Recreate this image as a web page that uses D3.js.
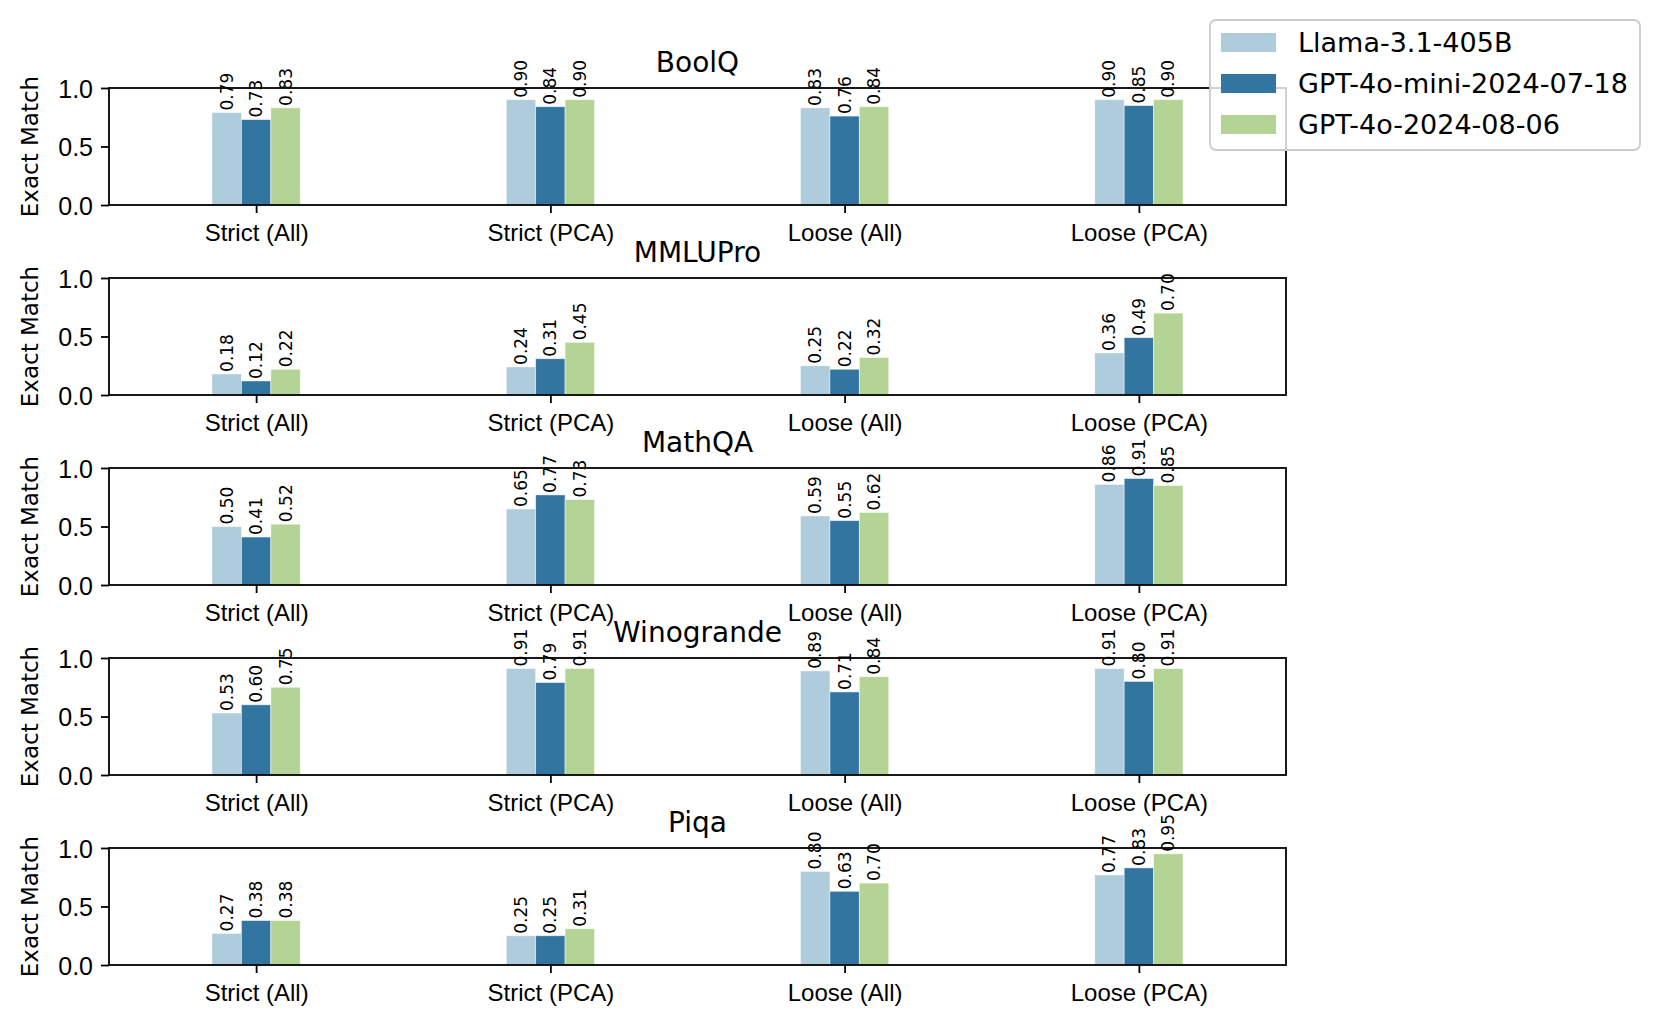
<!DOCTYPE html>
<html>
<head>
<meta charset="utf-8">
<script src="https://cdn.jsdelivr.net/npm/d3@7"></script>
<style>
    body { margin: 0; background: #fff; }
    svg { display: block; font-family: 'DejaVu Sans', sans-serif; }
    .tick text { font-size: 24px; fill: #000; }
    .y-axis .tick text { font-size: 25px; }
    .tick line, .domain { stroke: #000; stroke-width: 1.8; }
    .bar-label { font-size: 17px; fill: #000; }
    .panel-title { font-size: 28px; fill: #000; }
    .axis-label { font-size: 23px; fill: #000; }
    .legend-text { font-size: 27px; fill: #000; }
</style>
</head>
<body>
<svg id="chart"></svg>
<script>
// ===================================================================
// DATA
// ===================================================================
const metrics = ['Strict (All)', 'Strict (PCA)', 'Loose (All)', 'Loose (PCA)'];
const models = ['Llama-3.1-405B', 'GPT-4o-mini-2024-07-18', 'GPT-4o-2024-08-06'];
const colors = ['#aeccdb', '#3275a1', '#b3d495'];
const datasets = ['BoolQ', 'MMLUPro', 'MathQA', 'Winogrande', 'Piqa'];
const yTicks = [0, 0.5, 1.0];

// one row per model, one value per metric
const boolq      = [[0.79, 0.90, 0.83, 0.90], [0.73, 0.84, 0.76, 0.85], [0.83, 0.90, 0.84, 0.90]];
const mmlupro    = [[0.18, 0.24, 0.25, 0.36], [0.12, 0.31, 0.22, 0.49], [0.22, 0.45, 0.32, 0.70]];
const mathqa     = [[0.50, 0.65, 0.59, 0.86], [0.41, 0.77, 0.55, 0.91], [0.52, 0.73, 0.62, 0.85]];
const winogrande = [[0.53, 0.91, 0.89, 0.91], [0.60, 0.79, 0.71, 0.80], [0.75, 0.91, 0.84, 0.91]];
const piqa       = [[0.27, 0.25, 0.80, 0.77], [0.38, 0.25, 0.63, 0.83], [0.38, 0.31, 0.70, 0.95]];
const panelValues = [boolq, mmlupro, mathqa, winogrande, piqa];

// ===================================================================
const width = 1660, height = 1027;
const axLeft = 109, axRight = 1286;
const axTop0 = 88, axHeight = 117, axStep = 190;
const barWidth = 0.1;

const svg = d3.select('#chart')
    .attr('width', width)
    .attr('height', height);

// Shared x scale (category index, pandas-like limits)
const xScale = d3.scaleLinear()
    .domain([-0.5, metrics.length - 0.5])
    .range([axLeft, axRight]);

datasets.forEach((name, p) => {
    const top = axTop0 + p * axStep;
    const bottom = top + axHeight;
    const values = panelValues[p];

    const yScale = d3.scaleLinear()
        .domain([0, 1])
        .range([bottom, top]);

    const g = svg.append('g');

    // Bars
    models.forEach((model, m) => {
        const offset = (m - 1) * barWidth;
        g.selectAll(null)
            .data(values[m])
            .join('rect')
            .attr('x', (d, i) => xScale(i + offset - barWidth / 2))
            .attr('width', xScale(barWidth) - xScale(0))
            .attr('y', d => yScale(d))
            .attr('height', d => yScale(0) - yScale(d))
            .attr('fill', colors[m])
            .attr('stroke', '#fff')
            .attr('stroke-opacity', 0.6)
            .attr('stroke-width', 0.8);

        // Value labels (rotated)
        g.selectAll(null)
            .data(values[m])
            .join('text')
            .attr('class', 'bar-label')
            .attr('transform', (d, i) => `translate(${xScale(i + offset)},${yScale(d) - 2}) rotate(-90)`)
            .attr('dominant-baseline', 'central')
            .attr('text-anchor', 'start')
            .text(d => d.toFixed(2));
    });

    // Frame
    g.append('rect')
        .attr('x', axLeft)
        .attr('y', top)
        .attr('width', axRight - axLeft)
        .attr('height', axHeight)
        .attr('fill', 'none')
        .attr('stroke', '#000')
        .attr('stroke-width', 1.8);

    // Axes
    g.append('g')
        .attr('transform', `translate(0,${bottom})`)
        .call(d3.axisBottom(xScale)
            .tickValues(d3.range(metrics.length))
            .tickFormat(i => metrics[i])
            .tickSizeOuter(0)
            .tickSize(8)
            .tickPadding(11))
        .call(a => a.select('.domain').remove());

    g.append('g')
        .attr('class', 'y-axis')
        .attr('transform', `translate(${axLeft},0)`)
        .call(d3.axisLeft(yScale)
            .tickValues(yTicks)
            .tickFormat(d3.format('.1f'))
            .tickSizeOuter(0)
            .tickSize(8)
            .tickPadding(8))
        .call(a => a.select('.domain').remove())
        .selectAll('text')
        .attr('dy', '0.36em');

    // Title
    g.append('text')
        .attr('class', 'panel-title')
        .attr('x', (axLeft + axRight) / 2)
        .attr('y', top - 16)
        .attr('text-anchor', 'middle')
        .text(name);

    // Y label
    g.append('text')
        .attr('class', 'axis-label')
        .attr('transform', `translate(38,${(top + bottom) / 2}) rotate(-90)`)
        .attr('text-anchor', 'middle')
        .text('Exact Match');
});

// Legend
const legend = svg.append('g')
    .attr('transform', 'translate(1210,20)');

legend.append('rect')
    .attr('width', 430)
    .attr('height', 130)
    .attr('rx', 6)
    .attr('fill', '#fff')
    .attr('fill-opacity', 0.8)
    .attr('stroke', '#cccccc')
    .attr('stroke-width', 1.8);

models.forEach((model, m) => {
    const row = legend.append('g')
        .attr('transform', `translate(11,${13 + m * 41})`);
    row.append('rect')
        .attr('width', 55)
        .attr('height', 19)
        .attr('fill', colors[m]);
    row.append('text')
        .attr('class', 'legend-text')
        .attr('x', 77)
        .attr('y', 19)
        .text(model);
});
</script>
</body>
</html>
